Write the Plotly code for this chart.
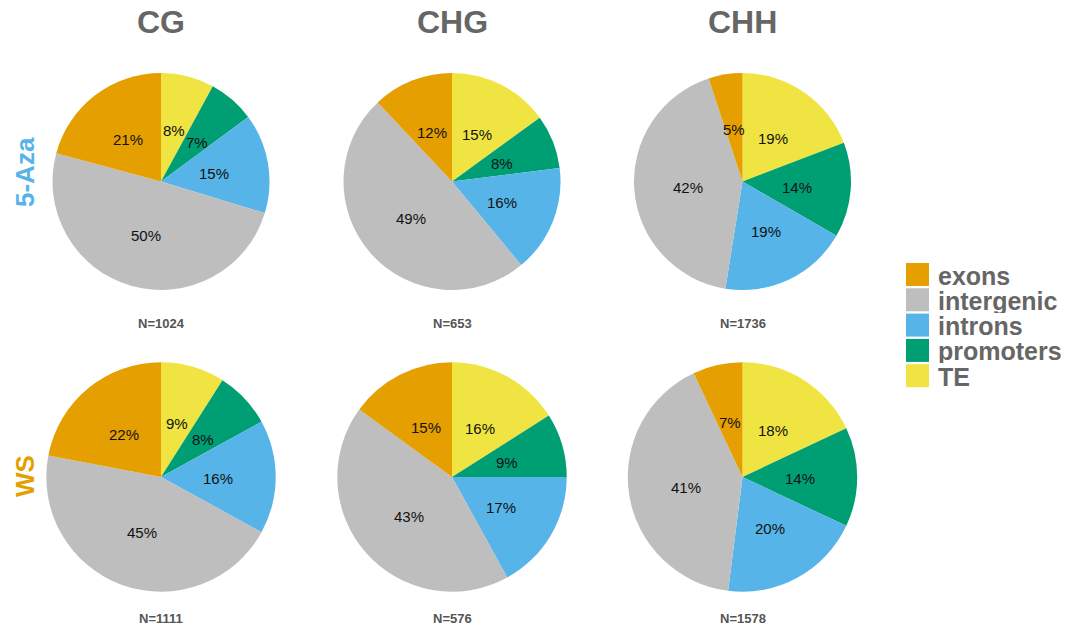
import math
import plotly.graph_objects as go

# ---- data -------------------------------------------------------------
contexts = ["CG", "CHG", "CHH"]
treatments = ["5-Aza", "WS"]
regions = ["exons", "intergenic", "introns", "promoters", "TE"]

# percentage of DMRs per genomic region (order follows `regions`)
aza_CG = [21, 50, 15, 7, 8]
aza_CHG = [12, 49, 16, 8, 15]
aza_CHH = [5, 42, 19, 14, 19]
ws_CG = [22, 45, 16, 8, 9]
ws_CHG = [15, 43, 17, 9, 16]
ws_CHH = [7, 41, 20, 14, 18]

n_aza = [1024, 653, 1736]
n_ws = [1111, 576, 1578]

# ---- styling / layout -------------------------------------------------
W, H = 1065, 630
region_colors = ["#E69F00", "#BEBEBE", "#56B4E9", "#009E73", "#F0E442"]
treatment_colors = ["#56B4E9", "#E69F00"]
grey_text = "#666666"
FONT = "Liberation Sans, Arial, Helvetica, sans-serif"

col_x = [161, 452, 742.5]       # pie centres (px)
row_y = [181.5, 477]
row_r = [108.5, 114.7]          # pie radii (px)
n_label_y = [323, 618]

values = [[aza_CG, aza_CHG, aza_CHH], [ws_CG, ws_CHG, ws_CHH]]
counts = [n_aza, n_ws]


def fx(x):
    return x / W


def fy(y):
    return 1 - y / H


fig = go.Figure()
annotations = []
shapes = []

for ri in range(len(treatments)):
    for ci in range(len(contexts)):
        vals = values[ri][ci]
        cx, cy, r = col_x[ci], row_y[ri], row_r[ri]
        # slices run clockwise from 12 o'clock: TE, promoters, introns,
        # intergenic, exons (so exons closes the circle on the left of 12)
        fig.add_trace(go.Pie(
            labels=regions[::-1],
            values=vals[::-1],
            sort=False,
            direction="clockwise",
            rotation=0,
            marker=dict(colors=region_colors[::-1], line=dict(width=0)),
            textinfo="none",
            hoverinfo="label+value",
            showlegend=False,
            domain=dict(x=[fx(cx - r), fx(cx + r)], y=[fy(cy + r), fy(cy - r)]),
        ))
        # percentage labels at half radius, mid-angle of each slice
        total = sum(vals)
        cum = 0.0
        for v in vals[::-1]:
            mid = (cum + v / 2) / total * 2 * math.pi
            cum += v
            lx = cx + 0.5 * r * math.sin(mid)
            ly = cy - 0.5 * r * math.cos(mid) + 1.5
            annotations.append(dict(
                x=fx(lx), y=fy(ly), xref="paper", yref="paper",
                text=f"{v}%", showarrow=False,
                xanchor="center", yanchor="middle",
                font=dict(family=FONT, size=15, color="#111111"),
            ))
        # sample size under each pie
        annotations.append(dict(
            x=fx(cx), y=fy(n_label_y[ri]), xref="paper", yref="paper",
            text=f"N={counts[ri][ci]}", showarrow=False,
            xanchor="center", yanchor="middle",
            font=dict(family=FONT, size=13, color="#555555", weight="bold"),
        ))

# column titles
for ci, name in enumerate(contexts):
    annotations.append(dict(
        x=fx(col_x[ci]), y=fy(22), xref="paper", yref="paper",
        text=name, showarrow=False, xanchor="center", yanchor="middle",
        font=dict(family=FONT, size=32, color=grey_text, weight="bold"),
    ))

# row labels
row_label_y = [172, 476]
for ri, name in enumerate(treatments):
    annotations.append(dict(
        x=fx(25), y=fy(row_label_y[ri]), xref="paper", yref="paper",
        text=name, showarrow=False, textangle=-90,
        xanchor="center", yanchor="middle",
        font=dict(family=FONT, size=26, color=treatment_colors[ri], weight="bold"),
    ))

# legend: coloured squares with region names
leg_x0, leg_top, leg_size, leg_pitch = 906, 263, 23, 25.3
for i, name in enumerate(regions):
    top = leg_top + i * leg_pitch
    shapes.append(dict(
        type="rect", xref="paper", yref="paper",
        x0=fx(leg_x0), x1=fx(leg_x0 + leg_size),
        y0=fy(top + leg_size), y1=fy(top),
        fillcolor=region_colors[i], line=dict(width=0),
    ))
    annotations.append(dict(
        x=fx(936), y=fy(top + leg_size / 2 + 1), xref="paper", yref="paper",
        text=name, showarrow=False, xanchor="left", yanchor="middle",
        height=24, valign="middle",
        font=dict(family=FONT, size=25, color=grey_text, weight="bold"),
    ))

fig.update_layout(
    width=W, height=H, autosize=False,
    margin=dict(l=0, r=0, t=0, b=0),
    paper_bgcolor="white", plot_bgcolor="white",
    annotations=annotations, shapes=shapes,
    showlegend=False,
)

fig.write_html("out.html")
